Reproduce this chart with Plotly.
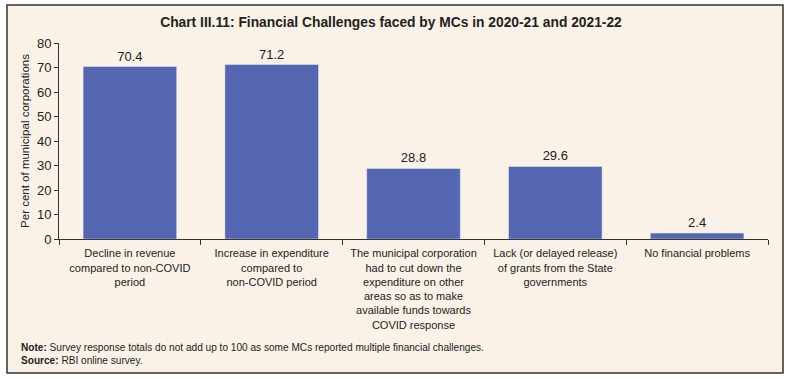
import plotly.graph_objects as go

categories = [
    "Decline in revenue<br>compared to non-COVID<br>period",
    "Increase in expenditure<br>compared to<br>non-COVID period",
    "The municipal corporation<br>had to cut down the<br>expenditure on other<br>areas so as to make<br>available funds towards<br>COVID response",
    "Lack (or delayed release)<br>of grants from the State<br>governments",
    "No financial problems",
]
values = [70.4, 71.2, 28.8, 29.6, 2.4]
value_labels = ["70.4", "71.2", "28.8", "29.6", "2.4"]
y_ticks = [0, 10, 20, 30, 40, 50, 60, 70, 80]

BG = "#FAF2E6"
FONT = "Liberation Sans, Arial, sans-serif"

fig = go.Figure()
fig.add_trace(go.Bar(
    x=categories, y=values, text=value_labels, textposition="outside",
    textfont=dict(size=13, color="#222"), marker_color="#5466B2",
    width=0.66, cliponaxis=False,
))

fig.update_layout(
    width=789, height=379,
    margin=dict(l=59, r=21, t=43, b=140, autoexpand=False),
    paper_bgcolor="white", plot_bgcolor=BG,
    font=dict(family=FONT, color="#222", size=12),
    showlegend=False,
    title=dict(text="<b>Chart III.11: Financial Challenges faced by MCs in 2020-21 and 2021-22</b>",
               x=391/789, xref="container", y=1 - 22/379, yref="container", xanchor="center", yanchor="middle",
               font=dict(size=13.8, color="#222")),
    xaxis=dict(showline=True, linecolor="#333", linewidth=1, ticks="outside", tickson="boundaries",
               ticklen=5, tickcolor="#333", tickfont=dict(size=11), tickangle=0,
               ticklabelstandoff=4, showgrid=False, automargin=False),
    yaxis=dict(range=[0, 80], tickvals=y_ticks, showline=True, linecolor="#333", linewidth=1,
               ticks="outside", ticklen=4, tickcolor="#333", showgrid=False, zeroline=False,
               tickfont=dict(size=13), automargin=False,
               title=dict(text="Per cent of municipal corporations", font=dict(size=11.5), standoff=4)),
    shapes=[dict(type="rect", xref="paper", yref="paper", layer="below",
                 x0=-52/709, x1=(783-59)/709, y0=-(373-239)/196, y1=(239-5)/196,
                 line=dict(color="#333", width=1.5), fillcolor=BG)],
    annotations=[
        dict(text="<b>Note:</b> Survey response totals do not add up to 100 as some MCs reported multiple financial challenges.",
             xref="paper", yref="paper", x=-40/709, y=-(347-239)/196, xanchor="left", yanchor="middle",
             showarrow=False, font=dict(size=10.1)),
        dict(text="<b>Source:</b> RBI online survey.",
             xref="paper", yref="paper", x=-40/709, y=-(360-239)/196, xanchor="left", yanchor="middle",
             showarrow=False, font=dict(size=10.1)),
    ],
)

fig.write_html("out.html", config={"displayModeBar": False},
               post_script="document.body.style.margin='0';document.body.style.padding='0';")
